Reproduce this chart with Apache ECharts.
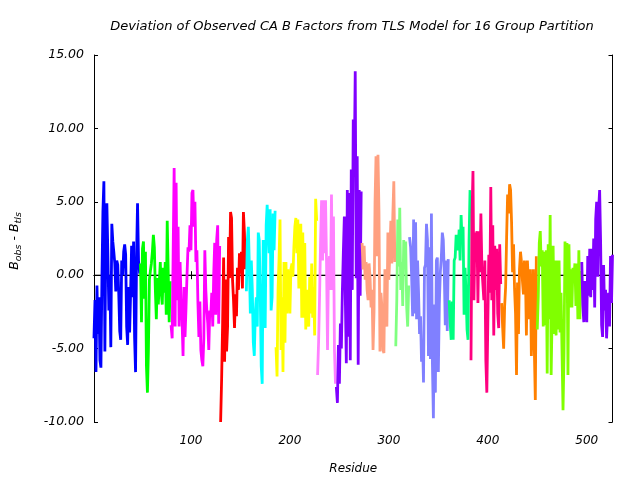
<!DOCTYPE html>
<html><head><meta charset="utf-8">
<script src="https://cdn.jsdelivr.net/npm/echarts@6/dist/echarts.min.js"></script>
<style>html,body{margin:0;padding:0;background:#fff}#c{width:640px;height:480px}</style>
</head><body><div id="c"></div>
<script>
// ---- data ----
const titleText = 'Deviation of Observed CA B Factors from TLS Model for 16 Group Partition';
const xName = 'Residue';
const xTicks = [100, 200, 300, 400, 500];
const xRange = [2, 526];
const yRange = [-10, 15];
const yStep = 5;

// first residue of each TLS group
const groupStart = [2, 49, 80, 130, 156, 186, 228, 247, 273, 307, 321, 361, 383, 414, 450, 495];

const g01 = [-4.2,-1.7,-6.6,-0.7,-4.0,-1.5,-5.8,-6.3,-0.3,4.3,6.4,-5.2,3.0,4.9,1.5,-2.4,0.0,-4.9,3.5,2.3,1.6,0.8,-1.1,1.0,0.7,-1.2,-3.8,-4.4,1.0,0.0,1.6,2.1,1.4,-3.5,-4.75,-0.8,-3.9,-1.2,2.0,-1.5,2.3,-4.2,-6.6,1.2,4.9,1.0,0.2];
const g02 = [0.7,-3.2,1.8,2.3,-1.6,1.6,-6.2,-8.0,-5.1,-0.3,0.3,0.8,1.6,2.75,1.9,-1.0,-3.0,-0.2,-2.0,-0.5,0.9,-1.2,-2.0,0.5,-1.2,0.9,-2.7,3.7,3.8,-3.2,-0.5];
const g03 = [-3.5,-4.3,1.6,7.3,-3.5,6.3,-1.7,3.3,-3.5,0.9,-1.7,-3.1,-5.5,-0.8,-4.2,-2.2,0.0,1.9,1.6,3.4,1.7,5.6,5.8,3.3,5.0,0.9,1.7,-1.8,-4.2,-1.8,-5.1,-5.8,-6.2,-4.3,1.7,-1.0,-2.4,-3.3,-5.1,-2.4,-2.8,-1.2,-3.5,0.1,2.2,-2.7,2.4,3.4,-3.3,1.9];
const g04 = [-9.9,-7.0,-3.2,1.2,-5.9,-0.3,-5.2,-3.5,2.6,-0.2,4.3,3.9,-0.3,-1.7,-3.6,-1.3,-2.8,0.5,-1.0,1.5,0.1,1.6,-0.9,4.3,2.9,0.5];
const g05 = [-1.0,2.4,3.3,0.6,-2.6,1.0,-1.0,-4.6,-5.5,-2.6,-1.5,-3.5,2.9,2.4,-1.2,-6.2,-7.4,2.4,-1.5,-3.6,3.4,4.8,4.8,1.5,4.5,-2.4,-1.5,4.2,1.7,4.3];
const g06 = [-5.0,-6.9,-1.0,1.1,3.8,-5.1,-1.5,-6.6,0.9,-4.6,0.9,-2.6,0.4,-1.0,-2.6,0.4,0.8,-0.1,1.9,3.3,3.9,1.5,3.8,-0.9,2.4,3.5,-2.9,2.9,-2.9,2.2,-3.7,-1.0,-2.9,-3.5,-0.1,-2.6,0.8,-2.9,-0.8,-4.1,5.2,3.8];
const g07 = [-6.7,-4.5,-1.3,2.4,5.1,1.0,5.1,1.5,5.1,0.9,-5.1,0.6,1.3,-1.0,5.5,-1.0,4.0,-5.1,-7.3];
const g08 = [-7.7,-8.7,-4.75,-7.4,-3.3,-5.0,-1.1,1.6,4.0,-1.6,-6.0,5.8,-4.2,5.6,-5.8,7.2,-1.0,10.6,7.2,13.9,-0.2,8.1,-6.1,5.8,-1.4,5.6];
const g09 = [2.1,0.4,2.0,-0.3,0.9,-1.0,-1.7,0.8,-0.2,-2.2,-1.0,-5.1,-2.5,4.9,8.1,1.3,8.2,4.3,-5.2,-1.2,-2.2,-5.1,-5.3,0.4,-2.6,-3.5,2.9,-0.3,1.5,3.7,0.8,4.1,6.4,1.0];
const g10 = [-4.75,-1.7,3.8,0.6,4.6,-1.0,0.9,-2.1,2.4,1.0,2.3,-2.2,-3.5,-0.8];
const g11 = [2.5,1.9,-0.1,-2.8,3.8,-2.6,3.6,-3.0,1.0,-1.2,-4.0,-2.8,-5.9,-4.4,-7.3,0.5,0.7,3.5,2.4,-5.5,1.9,-5.7,4.2,-6.0,-9.75,-2.0,-8.0,1.0,1.2,-6.6,-2.0,0.2,1.2,2.9,2.4,0.1,-3.4,1.0,-3.8,1.0];
const g12 = [-1.8,-3.3,-4.4,-1.8,-4.4,1.0,1.2,2.75,2.4,1.7,3.1,1.0,4.1,2.3,3.3,-2.7,0.5,-1.2,-3.7,-4.4,2.3,5.7];
const g13 = [-5.7,4.0,7.1,-1.7,2.9,1.3,3.0,-1.9,3.0,0.2,4.2,0.5,0.6,-1.7,1.0,-5.8,-8.0,-3.3,1.4,-1.2,6.0,-1.7,3.4,-4.1,2.0,-1.0,1.8,-2.6,-3.6,2.1,-0.5];
const g14 = [-2.0,-3.6,-5.0,-2.1,-0.8,2.6,5.5,4.2,6.2,5.8,3.6,0.2,2.1,-0.9,-2.6,-6.8,-0.5,-4.0,0.4,1.6,0.9,-0.4,-1.3,1.0,0.1,-4.1,1.0,-0.5,-3.0,0.4,-5.5,-3.0,0.4,-5.0,-8.5,1.2];
const g15 = [-3.6,-1.4,2.2,3.0,0.6,1.7,-3.5,1.6,-3.4,1.7,-6.7,2.1,-3.0,4.1,-6.8,-2.6,2.0,-4.0,1.0,-4.1,1.0,-3.7,1.0,-3.9,-1.2,-5.3,-9.2,-5.3,2.3,-0.2,2.2,-6.8,2.1,-2.2,0.4,-2.2,0.5,-0.2,0.8,-2.1,0.8,-3.0,1.7,-3.0,0.2];
const g16 = [0.8,-2.0,-3.2,-0.4,-1.2,-3.2,1.3,-1.4,1.8,-1.5,1.8,-1.0,2.5,-2.2,3.8,5.0,-0.1,4.5,5.8,2.2,-3.4,-4.2,0.7,-2.4,-1.0,-4.3,-4.2,-1.2,-3.5,1.3,-1.9,1.3];

const groupValues = [g01,g02,g03,g04,g05,g06,g07,g08,g09,g10,g11,g12,g13,g14,g15,g16];

// ---- styles ----
const palette = ['#0000ff','#00ff00','#ff00ff','#ff0000','#00ffff','#ffff00','#ff80ff','#8000ff',
                 '#ffa080','#80ff80','#8080ff','#00ff80','#ff0080','#ff8000','#80ff00','#8000ff'];
const FONT = "'DejaVu Sans', Verdana, sans-serif";

const series = [{
  type: 'line', name: 'zero', data: [[xRange[0], 0], [xRange[1], 0]],
  symbol: 'none', lineStyle: { color: '#000', width: 1 }, z: 1, silent: true
}];
groupValues.forEach((vals, i) => {
  series.push({
    type: 'line',
    name: 'group' + (i + 1),
    data: vals.map((v, k) => [groupStart[i] + k, v]),
    symbol: 'none',
    lineStyle: { color: palette[i], width: 2.8, cap: 'square' },
    itemStyle: { color: palette[i] },
    emphasis: { disabled: true },
    z: 2
  });
});

const tickStyle = { show: true, inside: true, length: 4, lineStyle: { color: '#000', width: 1 } };
const lineStyleAxis = { show: true, lineStyle: { color: '#000', width: 1 } };

const chart = echarts.init(document.getElementById('c'), null, { renderer: 'canvas' });
chart.setOption({
  animation: false,
  backgroundColor: '#fff',
  grid: { left: 94, right: 27.5, top: 55, bottom: 58, containLabel: false },
  xAxis: [{
    type: 'value', min: xRange[0], max: xRange[1], position: 'bottom',
    name: xName, nameLocation: 'middle', nameGap: 41,
    nameTextStyle: { fontFamily: FONT, fontStyle: 'italic', fontSize: 12, color: '#000' },
    axisLine: lineStyleAxis,
    axisTick: Object.assign({}, tickStyle, { customValues: xTicks }),
    axisLabel: { customValues: xTicks, fontFamily: FONT, fontStyle: 'italic', fontSize: 12, color: '#000', margin: 13 },
    splitLine: { show: false }
  }, {
    type: 'value', min: xRange[0], max: xRange[1], position: 'top',
    axisLine: lineStyleAxis,
    axisTick: Object.assign({}, tickStyle, { customValues: xTicks }),
    axisLabel: { show: false },
    splitLine: { show: false }
  }],
  yAxis: [{
    type: 'value', min: yRange[0], max: yRange[1], interval: yStep, position: 'left',
    axisLine: lineStyleAxis,
    axisTick: tickStyle,
    axisLabel: { formatter: v => v.toFixed(2), fontFamily: FONT, fontStyle: 'italic', fontSize: 12.5, color: '#000', margin: 10 },
    splitLine: { show: false }
  }, {
    type: 'value', min: yRange[0], max: yRange[1], interval: yStep, position: 'right',
    axisLine: lineStyleAxis,
    axisTick: tickStyle,
    axisLabel: { show: false },
    splitLine: { show: false }
  }],
  graphic: [{
    type: 'text', x: 352, y: 27,
    style: { text: titleText, font: "italic 13px " + FONT, fill: '#000', align: 'center', verticalAlign: 'middle' }
  }, {
    type: 'text', x: 16, y: 241, rotation: Math.PI / 2,
    style: {
      text: '{b|B}{s|obs}{b| - B}{s|tls}',
      align: 'center', verticalAlign: 'middle', fill: '#000',
      rich: {
        b: { fontFamily: FONT, fontStyle: 'italic', fontSize: 12.5, verticalAlign: 'bottom', padding: [0, 0, 3, 0], fill: '#000' },
        s: { fontFamily: FONT, fontStyle: 'italic', fontSize: 9.5, verticalAlign: 'bottom', fill: '#000' }
      }
    }
  }],
  series: series
});
</script>
</body></html>
